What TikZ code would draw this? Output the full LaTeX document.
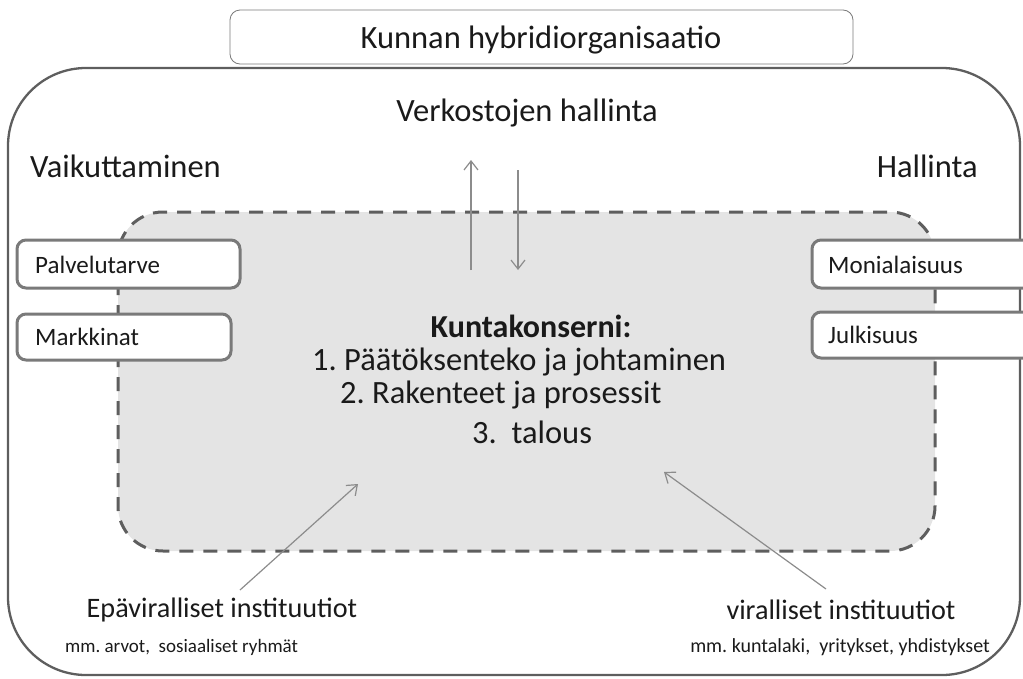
\documentclass[tikz,border=0pt]{standalone}
\usepackage{fontspec}
\setmainfont{Carlito}
\usetikzlibrary{arrows.meta}
\frenchspacing
\definecolor{edgegray}{HTML}{5E5E5E}
\definecolor{boxgray}{HTML}{7A7A7A}
\definecolor{fillgray}{HTML}{E4E4E4}
\definecolor{arrgray}{HTML}{8C8C8C}
\definecolor{txt}{HTML}{1A1A1A}
\tikzset{
  titlebox/.style={draw=boxgray, line width=0.8pt, fill=white, rounded corners=10pt},
  sidebox/.style={draw=boxgray, line width=3pt, fill=white, rounded corners=9pt},
  outerframe/.style={draw=edgegray, line width=2.3pt, rounded corners=78pt},
  innerframe/.style={draw=edgegray, fill=fillgray, line width=3pt, dash pattern=on 14pt off 10pt, rounded corners=45pt},
  heading/.style={font=\fontsize{32.5}{38}\selectfont, text=txt, inner sep=0pt},
  lowheading/.style={font=\fontsize{28.2}{33}\selectfont, text=txt, inner sep=0pt},
  boxtext/.style={font=\fontsize{25}{30}\selectfont, text=txt, inner sep=0pt, anchor=west},
  centertext/.style={font=\fontsize{32.5}{38}\selectfont, text=txt, inner sep=0pt},
  smalltext/.style={font=\fontsize{19}{23}\selectfont, text=txt, inner sep=0pt},
  flow/.style={draw=arrgray, line width=1.2pt, -{Straight Barb[length=9pt,width=14pt]}},
}
\begin{document}
\begin{tikzpicture}[x=1pt,y=-1pt]
\useasboundingbox (0,0) rectangle (1023,678);
% outer frame
\draw[outerframe] (8,68) rectangle (1020,675);
% title box
\draw[titlebox] (230,10) rectangle (853,64);
\node[heading] (title) at (541,40) {Kunnan hybridiorganisaatio};
% headings
\node[heading] (verk) at (527,113) {Verkostojen hallinta};
\node[heading, anchor=west] (vaik) at (30,166) {Vaikuttaminen};
\node[heading, anchor=east] (hall) at (978,166) {Hallinta};
% inner dashed region
\draw[innerframe] (118,212) rectangle (935,551);
% side boxes
\draw[sidebox] (17,240) rectangle (240,288);
\node[boxtext] (palv) at (35,265) {Palvelutarve};
\draw[sidebox] (17,314) rectangle (231,360);
\node[boxtext] (mark) at (35,337) {Markkinat};
\draw[sidebox] (812,240) rectangle (1060,288);
\node[boxtext] (moni) at (828,265) {Monialaisuus};
\draw[sidebox] (812,312) rectangle (1060,358);
\node[boxtext] (julk) at (828,335) {Julkisuus};
% center text
\node[centertext, font=\fontsize{32}{38}\selectfont\bfseries] (kk) at (531,326) {Kuntakonserni:};
\node[centertext, anchor=west] (p1) at (312,362) {1. Päätöksenteko ja johtaminen};
\node[centertext, anchor=west] (p2) at (340,395) {2. Rakenteet ja prosessit};
\node[centertext, anchor=west] (p3) at (472,432) {3.\ \ talous};
% vertical arrows
\coordinate (upS) at (471,270);
\coordinate (upE) at (471,160);
\coordinate (dnS) at (518,170);
\coordinate (dnE) at (518,270);
\draw[flow] (upS) -- (upE);
\draw[flow] (dnS) -- (dnE);
% bottom labels
\node[lowheading] (epa) at (222,610) {Epäviralliset instituutiot};
\node[smalltext, anchor=west] (epas) at (65,647) {mm. arvot,\ \ sosiaaliset ryhmät};
\node[lowheading] (vir) at (841,610) {viralliset instituutiot};
\node[smalltext, font=\fontsize{20}{24}\selectfont, anchor=east] (virs) at (990,647) {mm. kuntalaki,\ \ yritykset, yhdistykset};
% diagonal arrows
\coordinate (lS) at (240,590);
\coordinate (lE) at (358,484);
\coordinate (rS) at (826,589);
\coordinate (rE) at (664,472);
\draw[flow] (lS) -- (lE);
\draw[flow] (rS) -- (rE);
\end{tikzpicture}
\end{document}
